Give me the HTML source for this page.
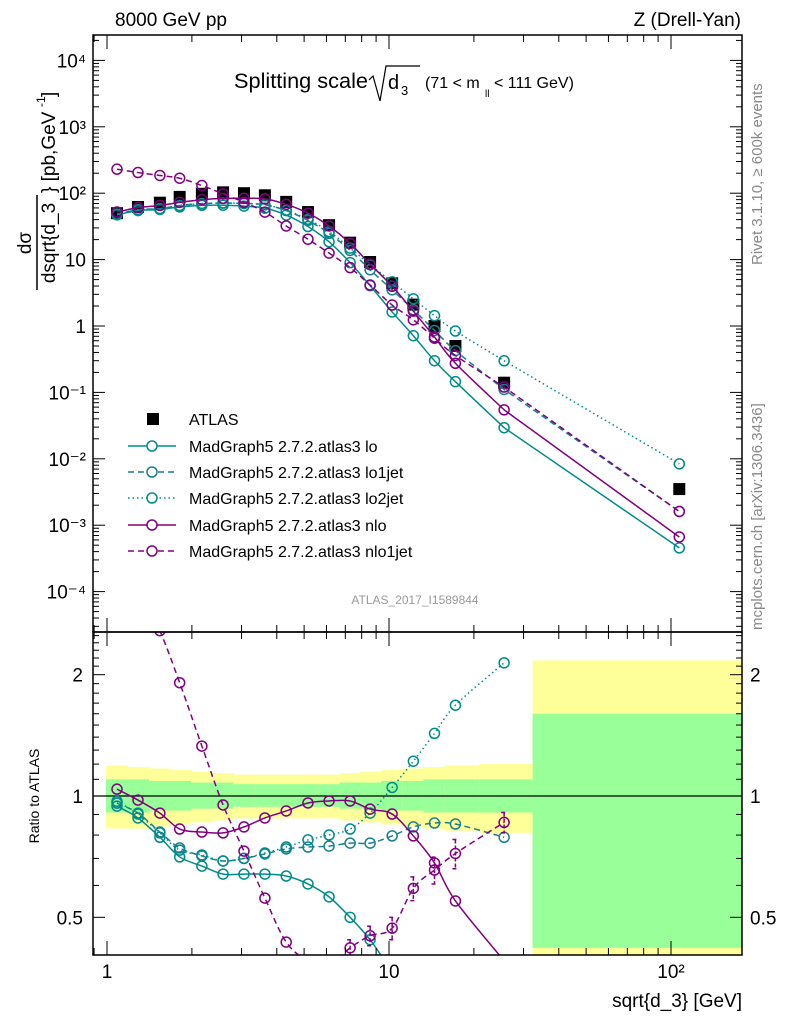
<!DOCTYPE html>
<html><head><meta charset="utf-8"><style>
html,body{margin:0;padding:0;background:#fff;width:786px;height:1024px;overflow:hidden}
svg{display:block;font-family:"Liberation Sans",sans-serif}
</style></head><body>
<svg id="c" width="786" height="1024" viewBox="0 0 786 1024" xmlns="http://www.w3.org/2000/svg">
<defs>
<clipPath id="cm"><rect x="93" y="35" width="649" height="597"/></clipPath>
<clipPath id="cr"><rect x="93" y="632" width="649" height="323"/></clipPath>
</defs>
<g id="bands" clip-path="url(#cr)"></g>
<g id="main" clip-path="url(#cm)"></g>
<g id="ratio" clip-path="url(#cr)"></g>
<g id="axes"></g>
<text x="115" y="26" font-size="19">8000 GeV pp</text>
<text x="741" y="26" font-size="19" text-anchor="end">Z (Drell-Yan)</text>
<g>
<text x="234" y="88" font-size="21" textLength="134" lengthAdjust="spacingAndGlyphs">Splitting scale</text>
<path d="M369,80 L373,76 L380,101 L386,66 L420,66" fill="none" stroke="#000" stroke-width="1.2"/>
<text x="388" y="89" font-size="20">d</text><text x="401" y="95" font-size="13">3</text>
<text x="425" y="88" font-size="16">(71 &lt; m</text><text x="485" y="97" font-size="10">ll</text><text x="494" y="88" font-size="16">&lt; 111 GeV)</text>
</g>
<text transform="translate(762,265) rotate(-90)" font-size="15" fill="#888">Rivet 3.1.10, ≥ 600k events</text>
<text transform="translate(762,630) rotate(-90)" font-size="15" fill="#888">mcplots.cern.ch [arXiv:1306.3436]</text>
<text x="415" y="604" font-size="12" fill="#999" text-anchor="middle">ATLAS_2017_I1589844</text>
<g transform="translate(37,290) rotate(-90)">
<text x="47" y="-6" font-size="19" text-anchor="middle">dσ</text>
<line x1="0" y1="0" x2="95" y2="0" stroke="#000" stroke-width="1.5"/>
<text x="47" y="18" font-size="19" text-anchor="middle">dsqrt{d_3</text>
<text x="97" y="18" font-size="19">} [pb,GeV</text><text x="183" y="8" font-size="12">-1</text><text x="193" y="18" font-size="19">]</text>
</g>
<text transform="translate(39,796) rotate(-90)" font-size="14" text-anchor="middle">Ratio to ATLAS</text>
<text x="742" y="1007" font-size="19" text-anchor="end">sqrt{d_3} [GeV]</text>
<g id="legend"></g>
</svg>
<script>
const xCenters=[1.085,1.288,1.54,1.81,2.17,2.58,3.06,3.63,4.32,5.16,6.13,7.28,8.57,10.26,12.2,14.5,17.2,25.6,107];
const binEdges=[0.992,1.182,1.409,1.673,1.985,2.366,2.81,3.33,3.96,4.72,5.62,6.67,7.89,9.37,11.14,13.24,15.7,20.9,32.3,178];
const atlas=[50,62,72,88,98,103,100,93,74,52,33,18,9.2,4.4,2.1,1.0,0.5,0.14,0.0035];
const rLo=[0.944,0.882,0.79,0.706,0.67,0.64,0.64,0.64,0.633,0.605,0.562,0.50,0.44,0.37,0.34,0.30,0.29,0.21,0.13];
const rLo1=[0.96,0.907,0.814,0.743,0.71,0.69,0.70,0.718,0.739,0.747,0.751,0.764,0.764,0.796,0.838,0.857,0.852,0.79,0.46];
const rLo2=[0.97,0.902,0.81,0.734,0.714,0.69,0.70,0.722,0.747,0.778,0.80,0.828,0.907,1.05,1.22,1.43,1.68,2.14,2.4];
const rNlo=[1.04,0.977,0.907,0.828,0.814,0.81,0.838,0.882,0.918,0.961,0.972,0.972,0.928,0.902,0.796,0.682,0.549,0.39,0.19];
const rNlo1=[4.6,3.3,2.57,1.91,1.33,0.95,0.73,0.558,0.434,0.39,0.38,0.42,0.45,0.47,0.59,0.655,0.72,0.86,0.46];
const rNlo1Err=[0.01,0.01,0.01,0.01,0.01,0.01,0.01,0.01,0.01,0.01,0.01,0.02,0.025,0.03,0.04,0.05,0.06,0.05,0.05];
const yelUp=[1.19,1.18,1.17,1.16,1.15,1.14,1.13,1.13,1.13,1.13,1.13,1.14,1.15,1.16,1.17,1.18,1.19,1.20,2.17];
const grnUp=[1.10,1.10,1.09,1.09,1.08,1.08,1.07,1.07,1.07,1.07,1.07,1.08,1.08,1.09,1.09,1.10,1.10,1.10,1.60];
const grnDn=[0.91,0.91,0.92,0.92,0.93,0.93,0.94,0.94,0.94,0.94,0.94,0.93,0.93,0.92,0.92,0.91,0.91,0.91,0.42];
const yelDn=[0.83,0.83,0.84,0.85,0.86,0.87,0.88,0.88,0.88,0.88,0.88,0.87,0.86,0.85,0.84,0.83,0.82,0.81,0.30];
const yTickVals=[1e-4,1e-3,1e-2,1e-1,1,10,100,1e3,1e4];
const yTickLabels=["10⁻⁴","10⁻³","10⁻²","10⁻¹","1","10","10²","10³","10⁴"];
const xTickVals=[1,10,100];
const xTickLabels=["1","10","10²"];
const rTickVals=[0.5,1,2];
const rTickLabels=["0.5","1","2"];
const ratioShown=18;

const NS="http://www.w3.org/2000/svg";
const X=v=>107+282*Math.log10(v);
const Y=v=>326-66.4*Math.log10(v);
const R=v=>796-403*Math.log10(v);
function mk(p,t,a){const e=document.createElementNS(NS,t);for(const k in a)e.setAttribute(k,a[k]);p.appendChild(e);return e;}
const main=document.getElementById('main'),ratio=document.getElementById('ratio'),axes=document.getElementById('axes'),bands=document.getElementById('bands'),leg=document.getElementById('legend');

for(let i=0;i<binEdges.length-1;i++){
  const x0=X(binEdges[i]),x1=X(binEdges[i+1]);
  const y=mk(bands,'rect',{x:x0,y:R(yelUp[i]),width:x1-x0+0.5,height:R(yelDn[i])-R(yelUp[i]),fill:'#ffff99'});
  
  
  const g=mk(bands,'rect',{x:x0,y:R(grnUp[i]),width:x1-x0+0.5,height:R(grnDn[i])-R(grnUp[i]),fill:'#99ff99'});
  
  
}
const l1=mk(ratio,'line',{x1:93,x2:742,y1:R(1),y2:R(1),stroke:'#000','stroke-width':1.2});



function smooth(pts,linLast){
  let d='M'+pts[0][0]+','+pts[0][1];
  const n=linLast?pts.length-2:pts.length-1;
  for(let i=0;i<n;i++){
    const p0=pts[Math.max(0,i-1)],p1=pts[i],p2=pts[i+1],p3=pts[Math.min(n,i+2)];
    const c1=[p1[0]+(p2[0]-p0[0])/6,p1[1]+(p2[1]-p0[1])/6],c2=[p2[0]-(p3[0]-p1[0])/6,p2[1]-(p3[1]-p1[1])/6];
    d+=' C'+c1+' '+c2+' '+p2;
  }
  if(linLast)d+=' L'+pts[pts.length-1];
  return d;
}
const series=[
 {name:'lo',r:rLo,c:'#008b8b',dash:'',label:'MadGraph5 2.7.2.atlas3 lo'},
 {name:'lo1jet',r:rLo1,c:'#1a7f8f',dash:'6,4',label:'MadGraph5 2.7.2.atlas3 lo1jet'},
 {name:'lo2jet',r:rLo2,c:'#008b8b',dash:'1.5,3',label:'MadGraph5 2.7.2.atlas3 lo2jet'},
 {name:'nlo',r:rNlo,c:'#800080',dash:'',label:'MadGraph5 2.7.2.atlas3 nlo'},
 {name:'nlo1jet',r:rNlo1,c:'#800080',dash:'6,4',label:'MadGraph5 2.7.2.atlas3 nlo1jet'}
];
atlas.forEach((v,i)=>{
  const s=mk(main,'rect',{x:X(xCenters[i])-6,y:Y(v)-6,width:12,height:12,fill:'#000'});
  
  
});
series.forEach(s=>{
  const mp=xCenters.map((x,i)=>[X(x),Y(s.r[i]*atlas[i])]);
  const rp=xCenters.slice(0,ratioShown).map((x,i)=>[X(x),R(s.r[i])]);
  const pm=mk(main,'path',{d:smooth(mp,true),fill:'none',stroke:s.c,'stroke-width':1.5,'stroke-dasharray':s.dash});
  
  
  const pr=mk(ratio,'path',{d:smooth(rp,false),fill:'none',stroke:s.c,'stroke-width':1.5,'stroke-dasharray':s.dash});
  
  
  mp.forEach(p=>{const c=mk(main,'circle',{cx:p[0],cy:p[1],r:5,fill:'none',stroke:s.c,'stroke-width':1.5});
    
    });
  rp.forEach(p=>{const c=mk(ratio,'circle',{cx:p[0],cy:p[1],r:5,fill:'none',stroke:s.c,'stroke-width':1.5});
    
    });
});
rNlo1.slice(0,ratioShown).forEach((v,i)=>{
  if(rNlo1Err[i]<0.02)return;
  const x=X(xCenters[i]);
  const e=mk(ratio,'path',{d:`M${x},${R(v+rNlo1Err[i])}V${R(v-rNlo1Err[i])}M${x-3},${R(v+rNlo1Err[i])}h6M${x-3},${R(v-rNlo1Err[i])}h6`,stroke:'#800080','stroke-width':1.5,'stroke-dasharray':'4,2',fill:'none'});
  
  
});
[[35,632],[632,955]].forEach(([t,b])=>mk(axes,'rect',{x:93,y:t,width:649,height:b-t,fill:'none',stroke:'#000','stroke-width':1.5}));
for(let e=-5;e<=4;e++)for(let m=1;m<=9;m++){
  const v=m*Math.pow(10,e),y=Y(v); if(y<35||y>632)continue;
  const L=m===1?12:6;
  mk(axes,'line',{x1:93,x2:93+L,y1:y,y2:y,stroke:'#000'});
  mk(axes,'line',{x1:742,x2:742-L,y1:y,y2:y,stroke:'#000'});
}
yTickVals.forEach((v,i)=>{const t=mk(axes,'text',{x:86,y:Y(v)+7,'font-size':19,'text-anchor':'end'});t.textContent=yTickLabels[i];
  
  });
for(let k=4;k<=25;k++){
  const v=k/10;
  const y=R(v); if(y<632||y>955)continue;
  const maj=rTickVals.some(t=>Math.abs(t-v)<1e-6);const L=maj?12:6;
  mk(axes,'line',{x1:93,x2:93+L,y1:y,y2:y,stroke:'#000'});
  mk(axes,'line',{x1:742,x2:742-L,y1:y,y2:y,stroke:'#000'});
}
rTickVals.forEach((v,i)=>{
  const t=mk(axes,'text',{x:83,y:R(v)+7,'font-size':19,'text-anchor':'end'});t.textContent=rTickLabels[i];
  
  
  const t2=mk(axes,'text',{x:750,y:R(v)+7,'font-size':19});t2.textContent=rTickLabels[i];
  
  
});
for(let e=-1;e<=2;e++)for(let m=1;m<=9;m++){
  const v=m*Math.pow(10,e),x=X(v); if(x<93||x>742)continue;
  const L=m===1?14:7;
  [[35,1],[632,-1],[632,1],[955,-1]].forEach(([y,s])=>mk(axes,'line',{x1:x,x2:x,y1:y,y2:y+s*L,stroke:'#000'}));
}
xTickVals.forEach((v,i)=>{const t=mk(axes,'text',{x:X(v),y:978,'font-size':19,'text-anchor':'middle'});t.textContent=xTickLabels[i];
  
  });
const rowY=[419,446,472,498,525,551];
const ls=mk(leg,'rect',{x:147,y:rowY[0]-6,width:12,height:12,fill:'#000'});


const lt=mk(leg,'text',{x:189,y:rowY[0]+6,'font-size':16});lt.textContent='ATLAS';
series.forEach((s,i)=>{
  const y=rowY[i+1];
  const g=mk(leg,'g',{});
  
  
  mk(g,'line',{x1:128,x2:176,y1:y,y2:y,stroke:s.c,'stroke-width':1.5,'stroke-dasharray':s.dash});
  mk(g,'circle',{cx:152,cy:y,r:5,fill:'#fff',stroke:s.c,'stroke-width':1.5});
  const t=mk(g,'text',{x:189,y:y+6,'font-size':16});t.textContent=s.label;
});
</script>
</body></html>
